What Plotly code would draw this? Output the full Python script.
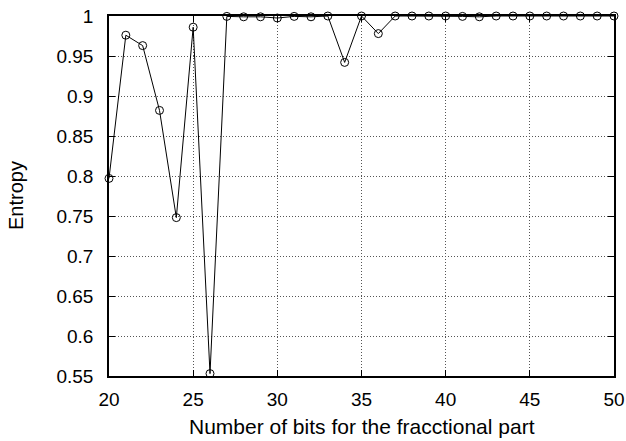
import plotly.graph_objects as go

# Entropy measured against the number of fractional bits
bits = list(range(20, 51))
entropy = [
    0.797, 0.976, 0.963, 0.882, 0.748, 0.986, 0.553, 0.9995, 0.999, 0.999,
    0.9975, 0.9995, 0.999, 1.0, 0.942, 1.0, 0.978, 1.0, 1.0, 1.0,
    1.0, 0.9995, 0.999, 1.0, 1.0, 1.0, 1.0, 1.0, 1.0, 1.0, 1.0,
]
x_ticks = [20, 25, 30, 35, 40, 45, 50]
y_ticks = [0.55, 0.6, 0.65, 0.7, 0.75, 0.8, 0.85, 0.9, 0.95, 1.0]
y_tick_text = ["0.55", "0.6", "0.65", "0.7", "0.75", "0.8", "0.85", "0.9", "0.95", "1"]
x_title = "Number of bits for the fracctional part"
y_title = "Entropy"

FONT = "Liberation Sans, Arial, sans-serif"
L, R, T, B = 109, 12, 16, 65

fig = go.Figure()
fig.add_trace(go.Scatter(
    x=bits, y=entropy,
    mode="lines+markers",
    line=dict(color="black", width=1),
    marker=dict(symbol="circle-open", size=8, color="black", line=dict(width=1)),
    cliponaxis=False,
    showlegend=False,
))

axis_common = dict(
    showline=True, linecolor="black", linewidth=1.5, mirror="ticks",
    ticks="inside", ticklen=6, tickcolor="black", tickwidth=1,
    showgrid=True, gridcolor="#555555", griddash="1px,2px", gridwidth=1,
    zeroline=False, automargin=False,
    tickfont=dict(family=FONT, size=19, color="black"),
)

fig.update_layout(
    width=626, height=441,
    margin=dict(l=L, r=R, t=T, b=B, autoexpand=False),
    paper_bgcolor="white", plot_bgcolor="white",
    font=dict(family=FONT, color="black"),
    xaxis=dict(range=[20, 50], tickvals=x_ticks, ticktext=[str(v) for v in x_ticks],
               ticklabelstandoff=5, **axis_common),
    yaxis=dict(range=[0.55, 1.0], tickvals=y_ticks, ticktext=y_tick_text,
               ticklabelstandoff=10, **axis_common),
    annotations=[
        dict(text=x_title, xref="paper", yref="paper", x=0.5, y=0,
             xanchor="center", yanchor="top", yshift=-37, showarrow=False,
             font=dict(family=FONT, size=21, color="black")),
        dict(text=y_title, xref="paper", yref="paper", x=0, y=0.5,
             xanchor="center", yanchor="middle", xshift=-93, textangle=-90,
             showarrow=False, font=dict(family=FONT, size=20, color="black")),
    ],
)

fig.write_html("out.html")
